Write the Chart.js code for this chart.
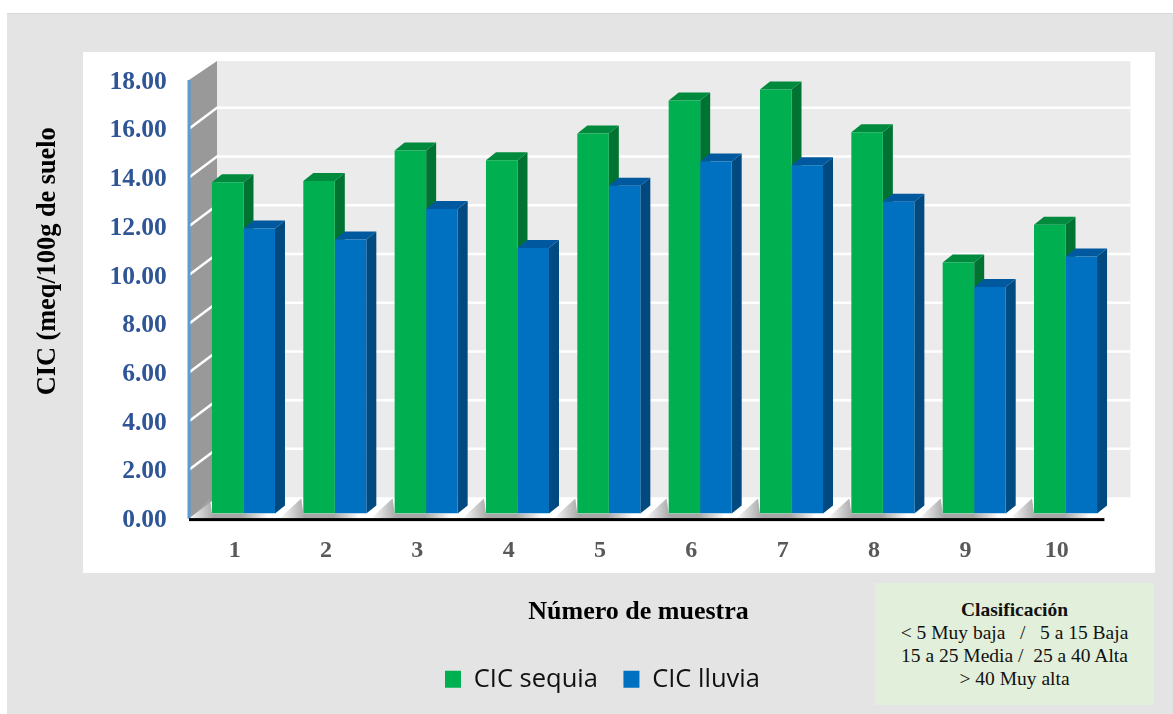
<!DOCTYPE html>
<html lang="es">
<head>
<meta charset="utf-8">
<title>CIC por muestra</title>
<script src="https://cdn.jsdelivr.net/npm/chart.js@4"></script>
<style>
  html, body { margin: 0; padding: 0; background: #fff; }
  #page { position: relative; width: 1173px; height: 714px; overflow: hidden; }
  #gray { position: absolute; left: 7px; top: 13px; right: 0; bottom: 0; background: #e4e4e4; border-top: 1px solid #d8d8d8; }
  #panel { position: absolute; left: 83px; top: 52px; width: 1072px; height: 521px; background: #fff; }
  #chart { position: absolute; left: 0; top: 0; }
  #clasif {
    position: absolute; left: 875px; top: 583px; width: 279px; height: 122px;
    background: #e2efda; color: #111; text-align: center;
    font: 19.5px/23px "Liberation Serif", serif; padding-top: 15px; box-sizing: border-box;
  }
  #clasif b { display: block; }
</style>
</head>
<body>
<div id="page">
  <div id="gray"></div>
  <div id="panel"></div>
  <canvas id="chart" width="1173" height="714"></canvas>
  <div id="clasif">
    <b>Clasificación</b>
    &lt; 5 Muy baja &nbsp; / &nbsp; 5 a 15 Baja<br>
    15 a 25 Media / &nbsp;25 a 40 Alta<br>
    &gt; 40 Muy alta
  </div>
</div>
<script>
const muestras = ["1", "2", "3", "4", "5", "6", "7", "8", "9", "10"];
const cicSequia = [13.6, 13.65, 14.9, 14.5, 15.6, 16.95, 17.4, 15.65, 10.3, 11.85];
const cicLluvia = [11.7, 11.25, 12.5, 10.9, 13.45, 14.45, 14.3, 12.8, 9.3, 10.55];

const serif = '"Liberation Serif", serif';

// offsets of the fake 3D box, relative to the plane the bars stand on
const FRONT = { dx: -8.8, dy: 5 };
const BACK = { dx: 19.2, dy: -16 };
const BAR_DEPTH = { dx: 10, dy: -8 };

function poly(ctx, pts, fill) {
  ctx.beginPath();
  pts.forEach((p, i) => (i ? ctx.lineTo(p[0], p[1]) : ctx.moveTo(p[0], p[1])));
  ctx.closePath();
  ctx.fillStyle = fill;
  ctx.fill();
}

function shiftTitle(scale, dx, dy) {
  const drawTitle = scale.drawTitle;
  scale.drawTitle = function () {
    const ctx = scale.ctx;
    ctx.save();
    ctx.translate(dx, dy);
    drawTitle.call(scale);
    ctx.restore();
  };
}

const box3d = {
  id: "box3d",
  afterUpdate(chart) {
    if (chart.$titlesMoved) return;
    chart.$titlesMoved = true;
    shiftTitle(chart.scales.x, -16, 0);
    shiftTitle(chart.scales.y, 0, -33);
  },
  afterLayout(chart) {
    // legend sits lower and further left than Chart.js would centre it
    const legend = chart.legend;
    const h = legend.bottom - legend.top;
    legend.left = 419.5;
    legend.right = 1000;
    legend.top = 641;
    legend.bottom = 641 + h;
  },
  beforeDraw(chart) {
    const ctx = chart.ctx;
    const y = chart.scales.y;
    const y0 = y.getPixelForValue(0);
    const y18 = y.getPixelForValue(18);
    const l = chart.chartArea.left;
    const r = chart.chartArea.right;
    const fl = l + FRONT.dx, fr = r + FRONT.dx;
    const bl = l + BACK.dx, br = r + BACK.dx;
    const wallTop = y18 + BACK.dy + 2;

    // back wall, left wall
    poly(ctx, [[bl, wallTop], [br, wallTop], [br, y0 + BACK.dy], [bl, y0 + BACK.dy]], "#ebebeb");
    poly(ctx, [[fl, y18 + FRONT.dy], [bl, wallTop], [bl, y0 + BACK.dy], [fl, y0 + FRONT.dy]], "#999999");

    // gridlines on both walls
    ctx.strokeStyle = "#ffffff";
    ctx.lineWidth = 2.5;
    y.ticks.forEach((t) => {
      if (t.value === 0 || t.value === 18) return;
      const py = y.getPixelForValue(t.value);
      ctx.beginPath();
      ctx.moveTo(fl, py + FRONT.dy);
      ctx.lineTo(bl, py + BACK.dy);
      ctx.lineTo(br, py + BACK.dy);
      ctx.stroke();
    });

    // floor with the soft shadow around each group of bars
    poly(ctx, [[fl, y0 + FRONT.dy], [bl, y0 + BACK.dy], [br, y0 + BACK.dy], [fr, y0 + FRONT.dy]], "#ffffff");
    const group = chart.getDatasetMeta(0).data.map((g, i) => {
      const b = chart.getDatasetMeta(1).data[i];
      return { a: g.x - g.width / 2, b: b.x + b.width / 2 };
    });
    group.forEach((g) => {
      const grad = ctx.createLinearGradient(g.a - 24, 0, g.b, 0);
      grad.addColorStop(0, "rgba(160,160,160,0)");
      grad.addColorStop(0.3, "#a6a6a6");
      grad.addColorStop(0.62, "#a6a6a6");
      grad.addColorStop(0.92, "rgba(160,160,160,0)");
      poly(ctx, [[g.a - 24, y0 + FRONT.dy], [g.a - 2, y0 + BACK.dy + 1], [g.a, y0], [g.b, y0], [g.b, y0 + FRONT.dy]], grad);
    });

    // axis lines
    ctx.fillStyle = "#5b9bd5";
    ctx.fillRect(fl - 1.5, y18 + FRONT.dy, 3, y0 - y18);
    ctx.fillStyle = "#000000";
    ctx.fillRect(fl, y0 + FRONT.dy - 0.5, fr - fl + 2, 3);
  },
  beforeDatasetsDraw(chart) {
    const ctx = chart.ctx;
    const d = BAR_DEPTH;
    chart.data.datasets.forEach((ds, i) => {
      chart.getDatasetMeta(i).data.forEach((bar) => {
        const a = bar.x - bar.width / 2;
        const b = bar.x + bar.width / 2;
        poly(ctx, [[b, bar.y], [b + d.dx, bar.y + d.dy], [b + d.dx, bar.base + d.dy], [b, bar.base]], ds.sideColor);
        poly(ctx, [[a, bar.y], [b, bar.y], [b + d.dx, bar.y + d.dy], [a + d.dx, bar.y + d.dy]], ds.topColor);
      });
    });
  },
};

new Chart(document.getElementById("chart"), {
  type: "bar",
  data: {
    labels: muestras,
    datasets: [
      {
        label: "CIC sequia",
        data: cicSequia,
        backgroundColor: "#00b050",
        sideColor: "#007232",
        topColor: "#008a3e",
        categoryPercentage: 0.69,
        barPercentage: 1,
      },
      {
        label: "CIC lluvia",
        data: cicLluvia,
        backgroundColor: "#0070c0",
        sideColor: "#004a80",
        topColor: "#00589f",
        categoryPercentage: 0.69,
        barPercentage: 1,
      },
    ],
  },
  plugins: [box3d],
  options: {
    responsive: false,
    animation: false,
    layout: { padding: { left: 0, right: 61.8, top: 75, bottom: 22 } },
    plugins: {
      tooltip: { enabled: false },
      legend: {
        position: "bottom",
        align: "start",
        labels: {
          boxWidth: 16,
          boxHeight: 17,
          padding: 25.5,
          color: "#111111",
          font: { family: '"Open Sans", sans-serif', size: 25.5 },
        },
      },
    },
    scales: {
      x: {
        grid: { display: false, drawTicks: false },
        border: { display: false },
        afterFit(scale) { scale.height = 117.4; },
        ticks: {
          autoSkip: false,
          maxRotation: 0,
          padding: 23,
          labelOffset: FRONT.dx,
          color: "#595959",
          font: { family: serif, weight: "bold", size: 24 },
        },
        title: {
          display: true,
          text: "Número de muestra",
          color: "#000000",
          padding: { top: 0, bottom: 3 },
          font: { family: serif, weight: "bold", size: 26 },
        },
      },
      y: {
        min: 0,
        max: 18,
        grid: { display: false, drawTicks: false },
        border: { display: false },
        afterFit(scale) { scale.width = 197.8; },
        ticks: {
          stepSize: 2,
          padding: 31,
          labelOffset: FRONT.dy + 2,
          color: "#2f5597",
          font: { family: serif, weight: "bold", size: 25.5 },
          callback: (v) => v.toFixed(2),
        },
        title: {
          display: true,
          text: "CIC (meq/100g de suelo",
          color: "#000000",
          padding: { top: 32, bottom: 0 },
          font: { family: serif, weight: "bold", size: 26.3 },
        },
      },
    },
  },
});
</script>
</body>
</html>
